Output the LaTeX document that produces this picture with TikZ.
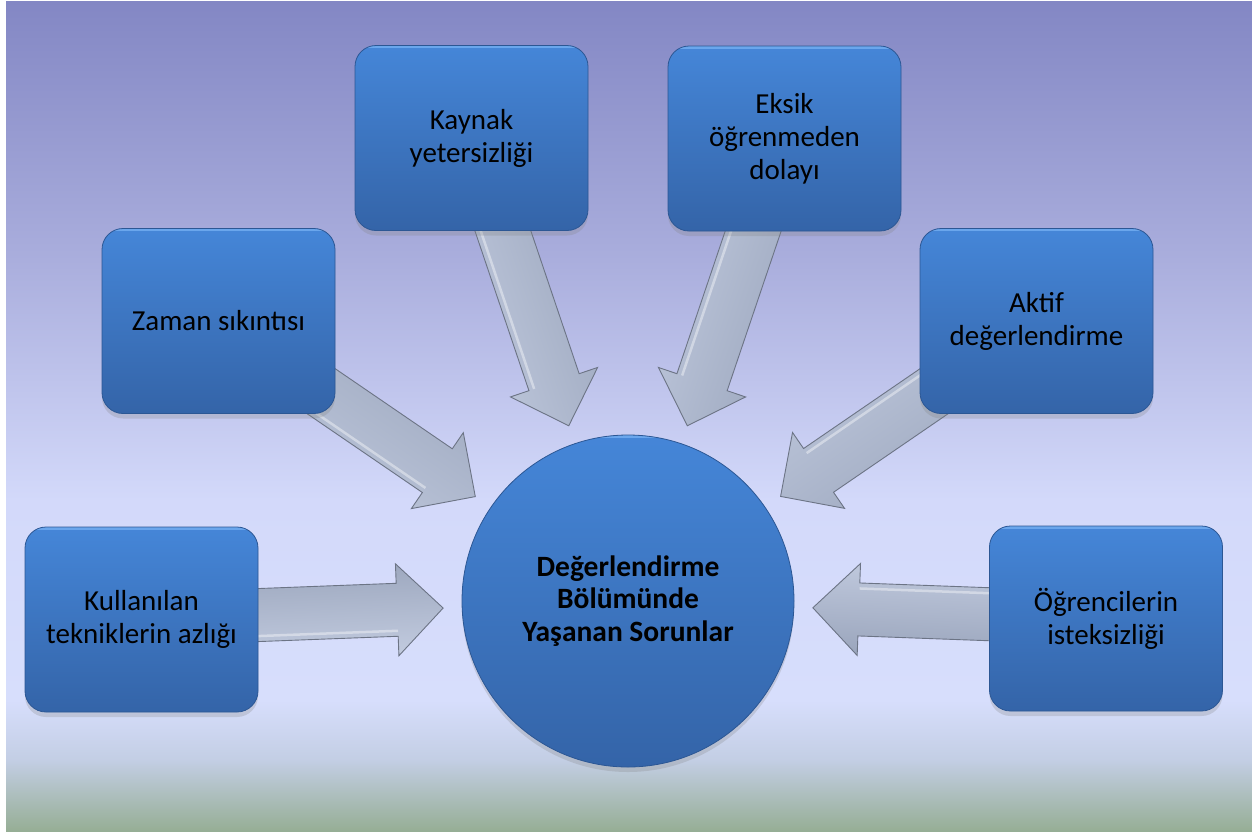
\documentclass[tikz,border=0pt]{standalone}
\usepackage{fontspec}
\setmainfont{Carlito}
\usetikzlibrary{calc,shadows}
\pgfdeclarelayer{bg}
\pgfdeclarelayer{arr}
\pgfsetlayers{bg,arr,main}
\definecolor{bgA}{HTML}{8387C4}
\definecolor{bgB}{HTML}{AAAEDD}
\definecolor{bgC}{HTML}{D3D9FA}
\definecolor{bgD}{HTML}{D7DEFC}
\definecolor{bgE}{HTML}{C3CEE4}
\definecolor{bgF}{HTML}{96AE95}
\definecolor{boxtop}{HTML}{4586D8}
\definecolor{boxbot}{HTML}{3464A8}
\definecolor{boxedge}{HTML}{2C5794}
\definecolor{boxrim}{HTML}{6AA6EC}
\definecolor{arrdark}{HTML}{9AA5BC}
\definecolor{arrmid}{HTML}{AAB5CB}
\definecolor{arrlight}{HTML}{C2CBDF}
\definecolor{arredge}{HTML}{6C7485}
\tikzset{
  x=1pt, y=-1pt,
  box/.style={rounded corners=21pt, minimum width=233pt, minimum height=185pt,
    top color=boxtop, bottom color=boxbot, draw=boxedge, line width=0.8pt,
    align=center, inner sep=0pt, text=black,
    font=\fontsize{29}{33}\selectfont,
    drop shadow={shadow xshift=0pt, shadow yshift=-5pt, opacity=0.25},
    path picture={\draw[boxrim, line width=5pt]
      (path picture bounding box.north west) -- (path picture bounding box.north east);}},
  hub/.style={circle, minimum size=332pt, inner sep=0pt,
    top color=boxtop, bottom color=boxbot, draw=boxedge, line width=0.8pt,
    align=center, text=black, font=\fontsize{29.5}{32.5}\selectfont\bfseries,
    drop shadow={shadow xshift=0pt, shadow yshift=-5pt, opacity=0.25},
    path picture={\draw[boxrim, line width=5pt]
      (path picture bounding box.north west) -- (path picture bounding box.north east);}},
  arrowsty/.style={draw=arredge, line width=0.9pt, line join=miter,
    top color=arrdark, middle color=arrmid, bottom color=arrlight},
  arrshine/.style={white, opacity=0.4, line width=2.5pt}
}
% #1 source box, #2 hub, #3 direction angle
\newcommand\blockarrow[3]{%
  \coordinate (ap) at ($(#2.center)!185pt!(#1.center)$);
  \coordinate (ab) at ($(ap)!46pt!(#1.center)$);
  \draw[arrowsty, shading angle=#3]
    ($(#1.center)!26.5pt!90:(ap)$) -- ($(ab)!26.5pt!90:(ap)$) --
    ($(ab)!46pt!90:(ap)$) -- (ap) -- ($(ab)!46pt!-90:(ap)$) --
    ($(ab)!26.5pt!-90:(ap)$) -- ($(#1.center)!26.5pt!-90:(ap)$) -- cycle;
  \draw[arrshine] ($(#1.center)!21pt!-90:(ap)$) -- ($(ab)!21pt!-90:(ap)$);
}
\begin{document}
\begin{tikzpicture}
  \useasboundingbox (0,0) rectangle (1252,831);

  % nodes
  \node[hub] (hub) at (628,601) {Değerlendirme\\Bölümünde\\Yaşanan Sorunlar};
  \node[box] (kullanilan) at (141.5,619.5) {Kullanılan\\tekniklerin azlığı};
  \node[box] (zaman) at (218.5,321) {Zaman sıkıntısı};
  \node[box] (kaynak) at (471.5,138) {Kaynak\\yetersizliği};
  \node[box] (eksik) at (784.5,138.5) {Eksik\\öğrenmeden\\dolayı};
  \node[box] (aktif) at (1036.5,321) {Aktif\\değerlendirme};
  \node[box] (ogrenci) at (1106,618.5) {Öğrencilerin\\isteksizliği};

  % background
  \begin{pgfonlayer}{bg}
    \fill[white] (0,0) rectangle (1252,831);
    \shade[top color=bgA, bottom color=bgB] (6,1) rectangle (1252,260.5);
    \shade[top color=bgB, bottom color=bgC] (6,260) rectangle (1252,500.5);
    \shade[top color=bgC, bottom color=bgD] (6,500) rectangle (1252,700.5);
    \shade[top color=bgD, bottom color=bgE] (6,700) rectangle (1252,760.5);
    \shade[top color=bgE, bottom color=bgF] (6,760) rectangle (1252,831);
  \end{pgfonlayer}

  % block arrows
  \begin{pgfonlayer}{arr}
    \blockarrow{kullanilan}{hub}{2.2}
    \blockarrow{zaman}{hub}{-34.4}
    \blockarrow{kaynak}{hub}{-71.3}
    \blockarrow{eksik}{hub}{-108.7}
    \blockarrow{aktif}{hub}{-145.6}
    \blockarrow{ogrenci}{hub}{177.9}
  \end{pgfonlayer}
\end{tikzpicture}
\end{document}
